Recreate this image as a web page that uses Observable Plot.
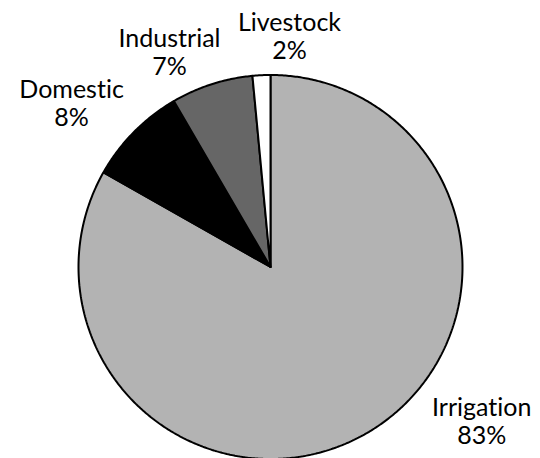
<!DOCTYPE html>
<html>
<head>
<meta charset="utf-8">
<script src="https://cdn.jsdelivr.net/npm/d3@7"></script>
<script src="https://cdn.jsdelivr.net/npm/@observablehq/plot@0.6"></script>
<style>
  html, body { margin: 0; padding: 0; background: #fff; }
  svg text { font-variant-ligatures: none; font-feature-settings: "liga" 0, "clig" 0; }
</style>
</head>
<body>
<div id="chart"></div>
<script>
// Data
const categories = ["Irrigation", "Domestic", "Industrial", "Livestock"];
const shares = [83.2, 8.4, 6.9, 1.5];
const shareLabels = ["83%", "8%", "7%", "2%"];
const sliceColors = ["#b3b3b3", "#000000", "#666666", "#ffffff"];
// label anchor layout (unit-circle coordinates)
const labelU = [1.10, -1.036, -0.526, 0.099];
const labelV = [-0.80, 0.855, 1.12, 1.205];

const W = 540, H = 458;
const R = 192, CX = 270, CY = 266.5;

// Build slice polygons (center + arc) clockwise from 12 o'clock
const total = d3.sum(shares);
let start = 0;
const slices = categories.map((name, i) => {
  const a0 = start / total * 2 * Math.PI;
  const a1 = (start + shares[i]) / total * 2 * Math.PI;
  start += shares[i];
  const n = Math.max(2, Math.ceil((a1 - a0) / (Math.PI / 360)));
  const pts = [{x: 0, y: 0}];
  for (let k = 0; k <= n; k++) {
    const a = a0 + (a1 - a0) * k / n;
    pts.push({x: Math.sin(a), y: Math.cos(a)});
  }
  pts.push({x: 0, y: 0});
  return {name, pts, color: sliceColors[i]};
});

const labels = categories.map((c, i) => ({text: c + "\n" + shareLabels[i], x: labelU[i], y: labelV[i]}));

const chart = Plot.plot({
  width: W,
  height: H,
  margin: 0,
  x: {domain: [-CX / R, (W - CX) / R], axis: null},
  y: {domain: [-(H - CY) / R, CY / R], axis: null},
  marks: [
    ...slices.map(s => Plot.line(s.pts, {
      x: "x", y: "y", fill: s.color, stroke: "#000", strokeWidth: 2,
      strokeLinejoin: "miter", curve: "linear"
    })),
    Plot.text(labels, {
      x: "x", y: "y", text: "text", fontSize: 25, lineHeight: 1.12,
      fill: "#000", textAnchor: "middle",
      fontFamily: "Lato, 'Open Sans', sans-serif"
    })
  ],
  style: {background: "#fff", overflow: "visible"}
});
document.getElementById("chart").appendChild(chart);
</script>
</body>
</html>
